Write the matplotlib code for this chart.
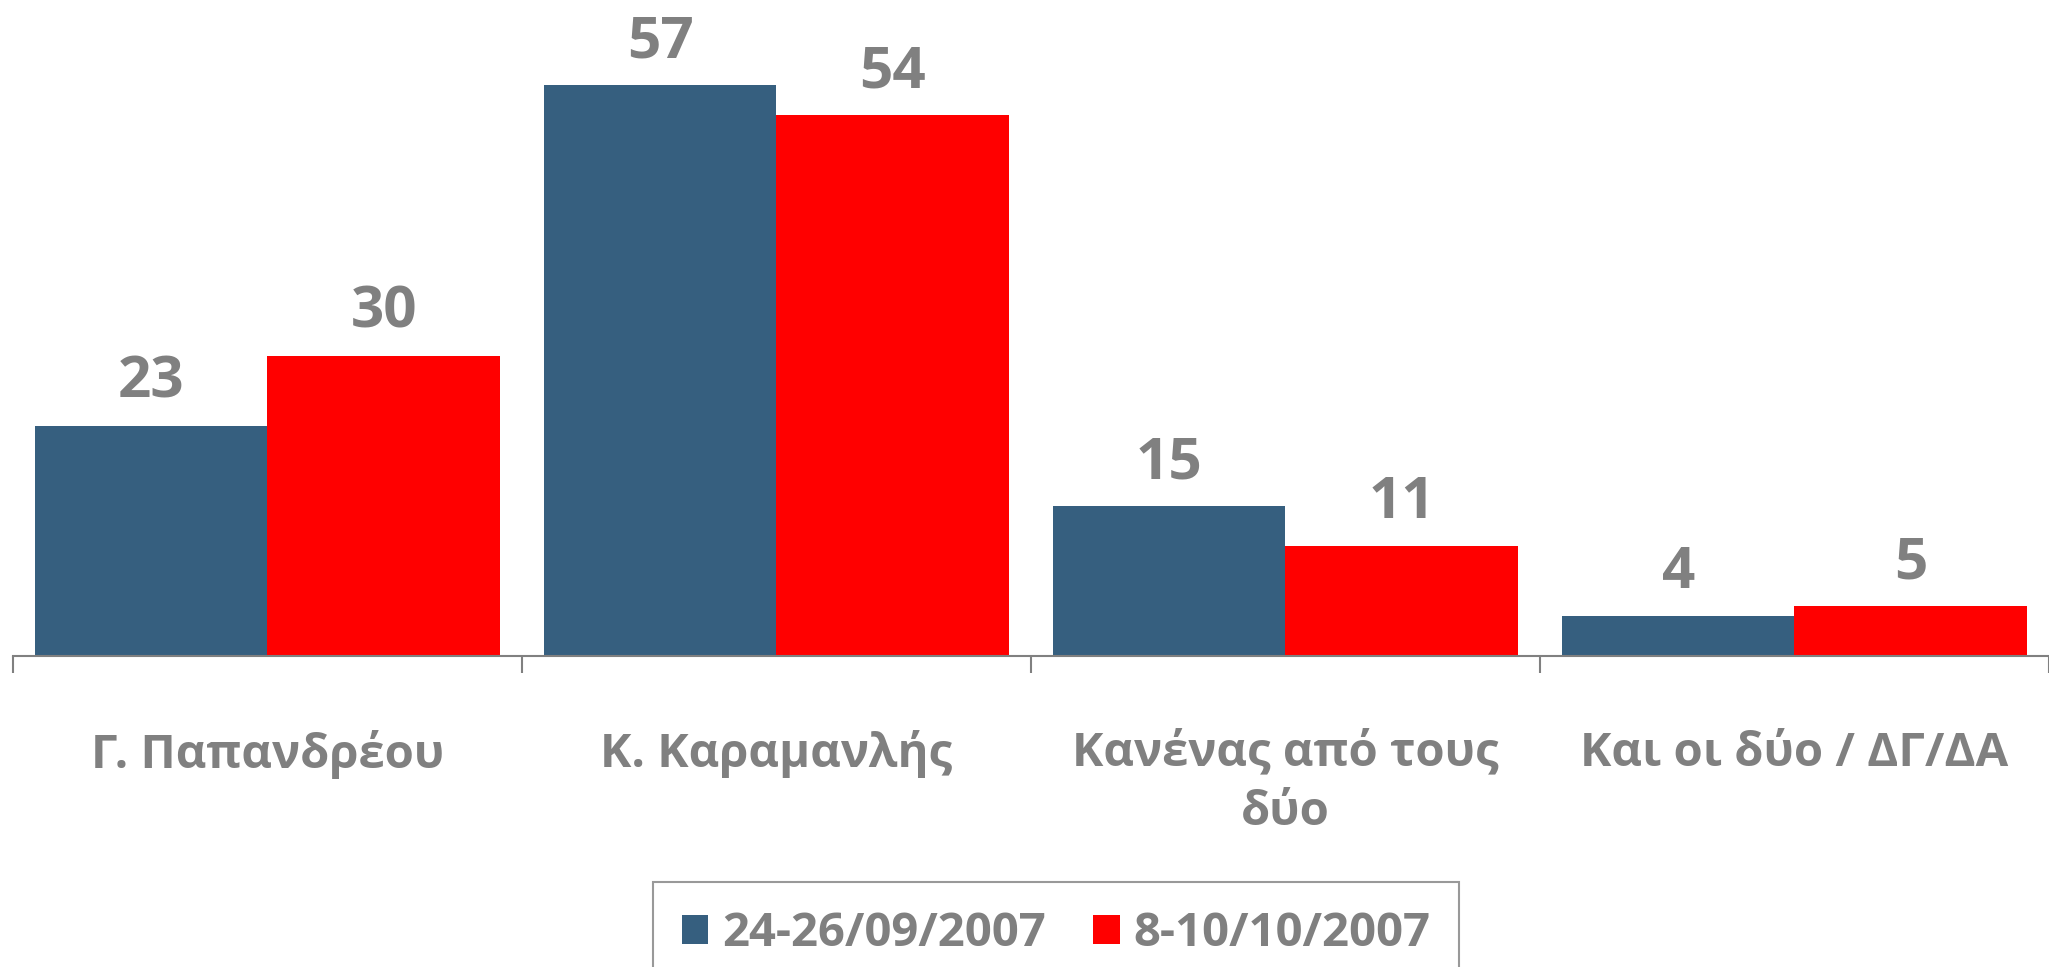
import matplotlib.pyplot as plt
import numpy as np

categories = ['Γ. Παπανδρέου', 'Κ. Καραμανλής', 'Κανένας από τους\nδύο', 'Και οι δύο / ΔΓ/ΔΑ']
series_names = ['24-26/09/2007', '8-10/10/2007']
sep_2007 = [23, 57, 15, 4]
oct_2007 = [30, 54, 11, 5]
colors = ['#365F7F', '#FF0000']

plt.rcParams['font.family'] = ['Open Sans', 'DejaVu Sans']
gray = '#808080'

fig = plt.figure(figsize=(20.49, 9.67), dpi=100)
ax = fig.add_axes([0.0063, 0.3216, 0.9937, 0.6784])

x = np.arange(len(categories))
w = 0.457
for vals, off, col, name in [(sep_2007, -w / 2, colors[0], series_names[0]),
                             (oct_2007, w / 2, colors[1], series_names[1])]:
    bars = ax.bar(x + off, vals, w, color=col, label=name)
    for b, v in zip(bars, vals):
        ax.annotate(str(v), (b.get_x() + b.get_width() / 2, v), xytext=(0, 20),
                    textcoords='offset points', ha='center', va='baseline',
                    fontsize=42, fontweight='bold', color=gray)

ax.set_xlim(-0.5, 3.5)
ax.set_ylim(0, 65.5)
for s in ['top', 'right', 'left']:
    ax.spines[s].set_visible(False)
ax.spines['bottom'].set_color(gray)
ax.spines['bottom'].set_linewidth(1.5)
ax.set_yticks([])
ax.set_xticks(x)
ax.set_xticklabels(categories, fontsize=34, fontweight='bold', color=gray,
                   linespacing=1.35)
ax.tick_params(axis='x', which='major', length=0, pad=53)
ax.set_xticks(np.arange(-0.5, 4, 1), minor=True)
ax.tick_params(axis='x', which='minor', length=12, width=1.5, color=gray)

leg = fig.legend(loc='upper center', bbox_to_anchor=(0.5155, 0.088), ncol=2,
                 frameon=True, fancybox=False, edgecolor=gray,
                 prop={'size': 34, 'weight': 'bold'}, handlelength=0.56,
                 handleheight=0.56, columnspacing=1.0, borderpad=0.6,
                 handletextpad=0.3, borderaxespad=0)
leg.get_frame().set_linewidth(1.5)
for t in leg.get_texts():
    t.set_color(gray)

fig.savefig('out.png', dpi=100)
